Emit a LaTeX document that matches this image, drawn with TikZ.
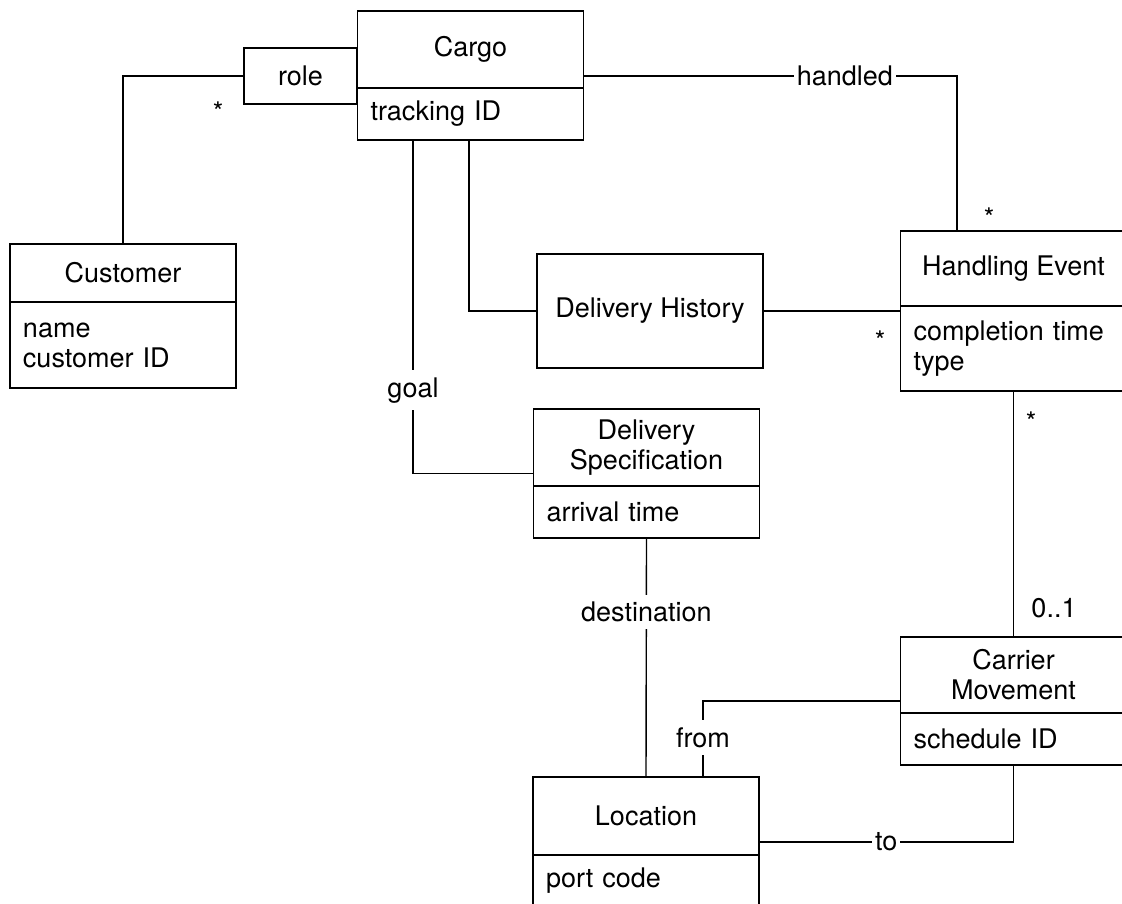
\documentclass[tikz,border=0pt]{standalone}
\usepackage{fontspec}
\setmainfont{TeX Gyre Heros}
\usetikzlibrary{positioning,fit}

\begin{document}
\begin{tikzpicture}[x=1pt,y=-1pt,line width=1.4pt,
    every node/.style={font=\fontsize{27}{30}\selectfont},
    classhead/.style={draw,minimum width=226pt,align=center,inner sep=0pt,outer sep=0pt},
    classattr/.style={draw,text width=200pt,inner xsep=13pt,inner ysep=0pt,align=left,outer sep=0pt},
    classbox/.style={inner sep=0pt,outer sep=0pt},
    assoc/.style={fill=white,inner xsep=3pt,inner ysep=7pt}]
            \useasboundingbox (0,0) rectangle (1122,903);

            % Classes
            \node[classhead,minimum height=77pt] (cargohead) at (470.5,49.5) {Cargo};
            \node[classattr,minimum height=52pt,below=0pt of cargohead] (cargoattr) {tracking ID};
            \node[classbox,fit=(cargohead)(cargoattr)] (cargo) {};

            \node[classhead,minimum height=58pt] (custhead) at (123,273) {Customer};
            \node[classattr,minimum height=86pt,below=0pt of custhead] (custattr) {name\\customer ID};
            \node[classbox,fit=(custhead)(custattr)] (cust) {};

            \node[classhead,minimum height=114pt] (history) at (650,311) {Delivery History};

            \node[classhead,minimum height=75pt] (eventhead) at (1013.5,268.5) {Handling Event};
            \node[classattr,minimum height=85pt,below=0pt of eventhead] (eventattr) {completion time\\type};
            \node[classbox,fit=(eventhead)(eventattr)] (event) {};

            \node[classhead,minimum height=77pt] (spechead) at (646.5,447.5) {Delivery\\Specification};
            \node[classattr,minimum height=52pt,below=0pt of spechead] (specattr) {arrival time};
            \node[classbox,fit=(spechead)(specattr)] (spec) {};

            \node[classhead,minimum height=76pt] (carrierhead) at (1013.5,675) {Carrier\\Movement};
            \node[classattr,minimum height=52pt,below=0pt of carrierhead] (carrierattr) {schedule ID};
            \node[classbox,fit=(carrierhead)(carrierattr)] (carrier) {};

            \node[classhead,minimum height=78pt] (lochead) at (646,816) {Location};
            \node[classattr,minimum height=52pt,below=0pt of lochead] (locattr) {port code};
            \node[classbox,fit=(lochead)(locattr)] (location) {};

            % Qualifier
            \node[draw,minimum width=113pt,minimum height=56pt,inner sep=0pt] (role) at (300.5,76) {role};

            % Associations
            \draw (cust.north) |- (role.west);
            \draw (cargo.east |- role.east) -| ([xshift=-56.5pt]event.north) node[assoc,pos=0.35] {handled};
            \draw ([xshift=-57.5pt]cargo.south) |- (spec.west) node[assoc,pos=0.375] {goal};
            \draw ([xshift=-1.5pt]cargo.south) |- (history.west);
            \draw (history.east) -- (event.west);
            \draw (event.south) -- (carrier.north);
            \draw (spec.south) -- (location.north) node[assoc,pos=0.31] {destination};
            \draw (carrier.west) -| ([xshift=57pt]location.north) node[assoc,pos=0.74] {from};
            \draw (location.east) -| (carrier.south) node[assoc,pos=0.25] {to};

            % Multiplicities
            \node (rolemult) at (218,111.8) {*};
            \node (handledmult) at (989,217.8) {*};
            \node (historymult) at (880,340.8) {*};
            \node (eventmult) at (1031,421.8) {*};
            \node (carriermult) at (1054,608) {0..1};
        \end{tikzpicture}
\end{document}
